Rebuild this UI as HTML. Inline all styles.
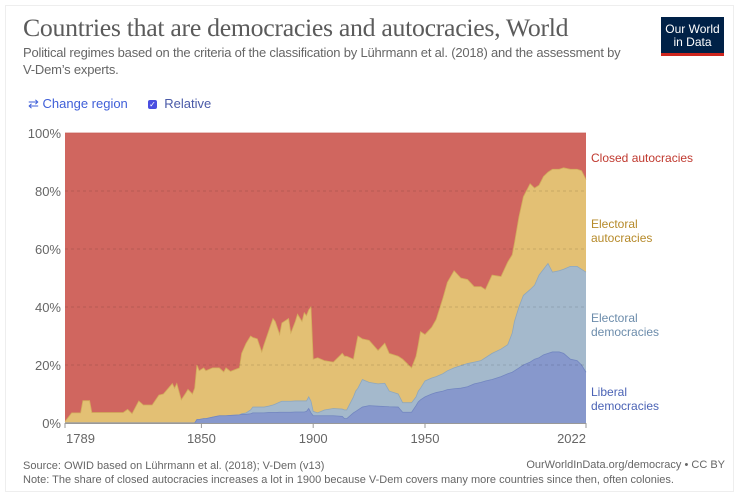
<!DOCTYPE html>
<html><head><meta charset="utf-8"><style>
body{margin:0;background:#fff;font-family:"Liberation Sans",sans-serif;}
#card{position:absolute;left:5px;top:5px;width:729px;height:487px;border:1px solid #eee;box-sizing:border-box;}
.t{position:absolute;white-space:nowrap;}
</style></head><body>
<div id="card"></div>
<div class="t" style="left:23px;top:13px;font-family:'Liberation Serif',serif;font-size:25.8px;color:#5b5b5b;letter-spacing:-0.3px">Countries that are democracies and autocracies, World</div>
<div class="t" style="left:23px;top:44px;font-size:13px;color:#666;line-height:17px;letter-spacing:-0.2px">Political regimes based on the criteria of the classification by Lührmann et al. (2018) and the assessment by<br>V-Dem’s experts.</div>
<div style="position:absolute;left:661px;top:17px;width:63px;height:39px;background:#002147;border-bottom:3px solid #ce261e;box-sizing:border-box;color:#fff;font-size:12px;line-height:13px;text-align:center;padding-top:6px">Our World<br>in Data</div>
<div class="t" style="left:28px;top:96px;font-size:13px;color:#3f5fd8">⇄ Change region</div>
<div class="t" style="left:148px;top:96px;font-size:13px;color:#4a5aa8"><span style="display:inline-block;width:9px;height:9px;background:#4a4ee0;border-radius:2px;color:#fff;font-size:8px;line-height:9px;text-align:center;vertical-align:1px">✓</span>&nbsp; Relative</div>
<svg id="chart" width="741" height="493" style="position:absolute;left:0;top:0"></svg>
<div class="t" style="left:23px;top:459px;font-size:11px;color:#666;line-height:14px">Source: OWID based on Lührmann et al. (2018); V-Dem (v13)<br>Note: The share of closed autocracies increases a lot in 1900 because V-Dem covers many more countries since then, often colonies.</div>
<div class="t" style="right:16px;top:459px;font-size:11px;color:#666">OurWorldInData.org/democracy • CC BY</div>
<script>
const years=[1789,1792,1796,1797,1800,1801,1815,1817,1819,1822,1824,1828,1831,1833,1837,1838,1839,1841,1843,1844,1846,1847,1848,1849,1851,1852,1855,1858,1860,1861,1863,1867,1868,1870,1872,1873,1875,1877,1878,1880,1882,1883,1885,1886,1889,1890,1892,1893,1895,1896,1897,1898,1899,1900,1902,1905,1909,1913,1914,1915,1918,1919,1920,1922,1925,1929,1932,1934,1938,1940,1944,1946,1947,1948,1950,1953,1955,1958,1960,1963,1966,1969,1972,1975,1977,1980,1984,1987,1989,1990,1992,1994,1997,1999,2001,2003,2005,2007,2010,2012,2015,2018,2020,2022];
const liberal=[0,0,0,0,0,0,0,0,0,0,0,0,0,0,0,0,0,0,0,0,0,0,1.2,1.2,1.5,1.5,2,2.5,2.5,2.5,2.6,2.8,3,3,3.2,3.5,3.5,3.5,3.5,3.6,3.6,3.6,3.7,3.7,3.7,3.7,3.8,3.8,3.8,3.8,4,5,3.5,2.5,2.5,2.5,2.5,2.3,1.5,1.5,3.5,4,4.5,5.5,6,5.8,5.7,5.6,5.5,3.7,3.7,6,7.3,8,9,10,10.5,11,11.5,11.8,12,12.5,13.5,14,14.5,15,16,17,17.5,18,19,20,21,22,22.5,23.5,24,24.5,24.5,24,22,21.5,20,17.5];
const electoralDem=[0,0,0,0,0,0,0,0,0,0,0,0,0,0,0,0,0,0,0,0,0,0,0,0,0,0,0,0,0,0,0,0,0.2,0.5,1.3,2,2,2,2,2.2,2.6,2.9,3.5,3.8,3.8,3.8,3.8,3.8,3.8,3.8,3.6,4,4,1.5,1,2,2.5,2.5,3,3,5.5,7,7.5,9.5,8,7.7,8,5.4,4.5,3.3,3.3,3,3.7,4,5.5,5.5,5.5,6,6.5,7.2,7.8,8,7.5,7.5,8,9,9.5,10,13.5,17,21,24,25,25.5,28.5,29.5,31,27.5,28,29,32,32.5,33,34.5];
const electoralAuto=[0.5,3.5,3.5,7.7,7.7,3.6,3.6,4.7,3.2,7.6,6.2,6.2,9.6,10,13.6,12,13.6,8,10.3,11.6,10,12,18.8,16.8,17.5,16.5,17,16.5,15.1,16.5,15.2,16.2,20.8,24,25.5,24,23.5,19,21.5,25.7,29.8,28.5,23.3,27,28.5,23.5,27.4,29.9,27.4,30.4,29.4,30,32.5,18,19,17,16,19.2,18.5,18.5,13,15,18,14,14.5,11.5,13.8,13,13,15,12,14,16,19.5,16,17.5,19.7,26,30.5,33.5,30.2,29,26,25.5,23.5,27,25,28.5,27,27,31,34,36.5,33.5,31,32,31.5,35.5,35,35,33.5,33.5,34,32];
const yTicks=[0,20,40,60,80,100];
const xTicks=[1789,1850,1900,1950,2022];

const NS="http://www.w3.org/2000/svg",svg=document.getElementById('chart');
const X0=65,X1=586,Y0=423,Y1=133;
const x=y=>X0+(y-1789)*(X1-X0)/(2022-1789);
const yy=v=>Y0-v*(Y0-Y1)/100;
function mk(t,a){const e=document.createElementNS(NS,t);for(const k in a)e.setAttribute(k,a[k]);svg.appendChild(e);return e;}
const c1=liberal.map((v,i)=>v);
const c2=liberal.map((v,i)=>v+electoralDem[i]);
const c3=liberal.map((v,i)=>c2[i]+electoralAuto[i]);
const c4=years.map(()=>100);
const zero=years.map(()=>0);
function area(lo,hi,fill,stroke,name){
  let d='M'+years.map((y,i)=>x(y)+','+yy(hi[i])).join('L');
  for(let i=years.length-1;i>=0;i--)d+='L'+x(years[i])+','+yy(lo[i]);
  const p=mk('path',{d:d+'Z',fill:fill});
  
  
  const l=mk('path',{d:'M'+years.map((y,i)=>x(y)+','+yy(hi[i])).join('L'),fill:'none',stroke:stroke,'stroke-width':0.8});
  
  
}
area(c3,c4,'#d0665f','#c95b55','area-closed-autocracies');
area(c2,c3,'#e3c074','#d2ac5c','area-electoral-autocracies');
area(c1,c2,'#a4b9cc','#8ea7bd','area-electoral-democracies');
area(zero,c1,'#8798cc','#7286c0','area-liberal-democracies');
yTicks.forEach(v=>{
  if(v>0&&v<100){const g=mk('line',{x1:X0,x2:X1,y1:yy(v),y2:yy(v),stroke:'#000','stroke-opacity':0.12,'stroke-dasharray':'3,3'});
  
  }
  const t=mk('text',{x:61,y:yy(v)+5,'text-anchor':'end','font-size':13,fill:'#666','font-family':'Liberation Sans,sans-serif'});
  t.textContent=v+'%';
  
  
});
const ax=mk('line',{x1:X0,x2:X1,y1:Y0+0.5,y2:Y0+0.5,stroke:'#999'});


xTicks.forEach((v,i)=>{
  const tk=mk('line',{x1:x(v),x2:x(v),y1:Y0,y2:Y0+5,stroke:'#999'});
  
  
  const anchor=i===0?'start':(i===xTicks.length-1?'end':'middle');
  const t=mk('text',{x:x(v)+(i===0?1:0),y:443,'text-anchor':anchor,'font-size':13,fill:'#666','font-family':'Liberation Sans,sans-serif'});
  t.textContent=v;
  
  
});
const labels=[[['Closed autocracies'],162,'#c0392f','label-closed-autocracies'],[['Electoral','autocracies'],228,'#b68a2a','label-electoral-autocracies'],[['Electoral','democracies'],322,'#6c8cab','label-electoral-democracies'],[['Liberal','democracies'],396,'#4b63b5','label-liberal-democracies']];
labels.forEach(([ls,y0,col,nm])=>{
  ls.forEach((s,i)=>{const t=mk('text',{x:591,y:y0+i*14,'font-size':12,fill:col,'font-family':'Liberation Sans,sans-serif'});
  t.textContent=s;
  
  });
});
</script>
</body></html>
